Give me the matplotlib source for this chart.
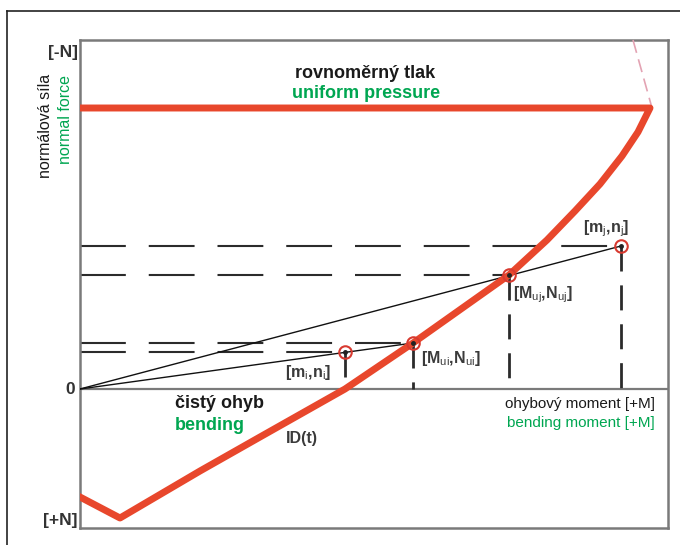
import matplotlib
matplotlib.use("Agg")
import matplotlib.pyplot as plt
from matplotlib import font_manager
from matplotlib.lines import Line2D

# Interaction diagram: normal force vs. bending moment (arbitrary units)
curve_M = [0.00, 5.70, 5.58, 5.42, 5.20, 4.95, 4.67, 4.29, 3.33, 2.65, 1.80, 1.20, 0.40, 0.00]
curve_N = [2.81, 2.81, 2.57, 2.33, 2.05, 1.78, 1.49, 1.14, 0.46, 0.00, -0.48, -0.82, -1.29, -1.08]

# Load points (m, n) and matching ultimate points (Mu, Nu)
load_i = (2.65, 0.37)
ult_i = (3.33, 0.46)
ult_j = (4.29, 1.14)
load_j = (5.41, 1.43)

# Continuation of the envelope above uniform pressure
ext_M = [5.53, 5.72]
ext_N = [3.49, 2.81]

M_max, N_top, N_bottom = 5.88, 3.49, -1.39

RED = "#e8472c"
GREEN = "#00a651"
DARK = "#2b2b2b"

names = {f.name for f in font_manager.fontManager.ttflist}
NARROW = "Liberation Sans Narrow" if "Liberation Sans Narrow" in names else "Liberation Sans"
plt.rcParams["font.family"] = [NARROW, "DejaVu Sans"]
plt.rcParams["mathtext.fontset"] = "custom"
plt.rcParams["mathtext.rm"] = NARROW
plt.rcParams["mathtext.it"] = NARROW

W, H = 680, 545
fig = plt.figure(figsize=(W / 100, H / 100), dpi=100)
ax = fig.add_axes([80 / W, (H - 528) / H, (668 - 80) / W, (528 - 40) / H])
ax.set_xlim(0, M_max)
ax.set_ylim(N_bottom, N_top)
ax.set_xticks([])
ax.set_yticks([])
for s in ax.spines.values():
    s.set_color("#7a7a7a")
    s.set_linewidth(1.8)

# outer frame of the figure
fig.add_artist(Line2D([7 / W, 7 / W], [0, (H - 11) / H], color="#222", lw=1.2))
fig.add_artist(Line2D([7 / W, 1], [(H - 11) / H, (H - 11) / H], color="#222", lw=1.2))

# moment axis (N = 0)
ax.axhline(0, color="#7a7a7a", lw=1.6, zorder=1)

# dashed projections of the points
hdash = (0, (22, 11))
vdash = (0, (9, 5))
for (m, n) in [load_j, ult_j, ult_i, load_i]:
    ax.plot([0, m], [n, n], color=DARK, lw=1.5, ls=hdash, zorder=2)
    ax.plot([m, m], [n, 0], color=DARK, lw=2.0, ls=vdash, zorder=2)

# load rays from the origin
ax.plot([0, load_j[0]], [0, load_j[1]], color="#111", lw=1.0, zorder=3)
ax.plot([0, ult_i[0]], [0, ult_i[1]], color="#111", lw=1.0, zorder=3)

# interaction envelope
ax.plot(curve_M, curve_N, color=RED, lw=5.0, solid_joinstyle="round", zorder=4)
ax.plot(ext_M, ext_N, color="#e3a3b3", lw=1.2, ls=(0, (8, 4)), zorder=3, clip_on=False)

for (m, n) in [load_i, ult_i, ult_j, load_j]:
    ax.plot(m, n, "o", ms=9, mfc="none", mec="#d83a30", mew=1.5, zorder=5)
    ax.plot(m, n, "o", ms=2.5, color="#222", zorder=6)

def px(x, y):
    return ((x - 80) / 100.0, (389 - y) / 100.0)

lab = dict(fontsize=11.5, color="#3a3a3a", fontweight="bold", zorder=7)
ax.text(*px(583, 229), r"[m$_j$,n$_j$]", ha="left", va="center", **lab)
ax.text(*px(513, 295), r"[M$_{uj}$,N$_{uj}$]", ha="left", va="center", **lab)
ax.text(*px(421, 358), r"[M$_{ui}$,N$_{ui}$]", ha="left", va="center", **lab)
ax.text(*px(285, 372), r"[m$_i$,n$_i$]", ha="left", va="center", **lab)
ax.text(*px(286, 438), "ID(t)", ha="left", va="center", **lab)

big = dict(fontsize=13, fontweight="bold", ha="center", va="center")
ax.text(*px(365, 73), "rovnoměrný tlak", color="#1a1a1a", **big)
ax.text(*px(366, 93), "uniform pressure", color=GREEN, **big)

ax.text(*px(175, 404), "čistý ohyb", color="#1a1a1a", fontsize=13, fontweight="bold",
        ha="left", va="center")
ax.text(*px(175, 426), "bending", color=GREEN, fontsize=13, fontweight="bold",
        ha="left", va="center")

ax.text(*px(655, 404), "ohybový moment [+M]", color="#1a1a1a", fontsize=11,
        ha="right", va="center")
ax.text(*px(655, 423), "bending moment [+M]", color=GREEN, fontsize=11,
        ha="right", va="center")

# labels left of the force axis
def fx(x):
    return x / W

def fy(y):
    return (H - y) / H

axis_lab = dict(fontsize=12.5, fontweight="bold", color="#333", va="center", ha="right")
fig.text(fx(78), fy(53), "[-N]", **axis_lab)
fig.text(fx(78), fy(521), "[+N]", **axis_lab)
fig.text(fx(75), fy(389), "0", **axis_lab)

fig.text(fx(46), fy(126), "normálová síla", color="#1a1a1a", fontsize=11.5,
         rotation=90, ha="center", va="center")
fig.text(fx(66), fy(120), "normal force", color=GREEN, fontsize=11.5,
         rotation=90, ha="center", va="center")

fig.savefig("out.png", dpi=100)
